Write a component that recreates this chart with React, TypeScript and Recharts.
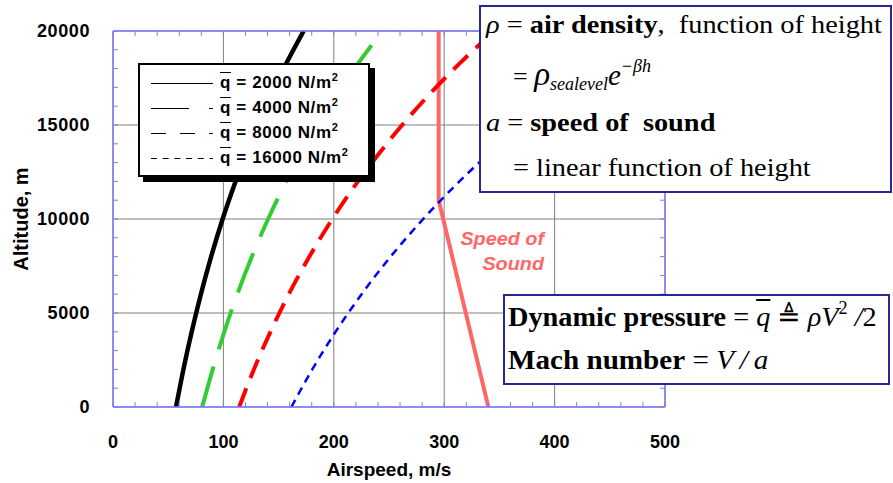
import React from 'react';
import { LineChart, Line, XAxis, YAxis, CartesianGrid, Legend } from 'recharts';

// altitude (m) at which the airspeeds below were read
const altitudes = [0, 2000, 4000, 6000, 8000, 10000, 12000, 14000, 16000, 18000, 20000];

// airspeed (m/s) for constant dynamic pressure
const speedQ2000 = [57.1, 63.8, 71.3, 79.6, 88.9, 99.3, 111.0, 123.9, 138.4, 154.6, 172.7];
const speedQ4000 = [80.8, 90.3, 100.8, 112.6, 125.8, 140.5, 156.9, 175.3, 195.8, 218.7, 244.2];
const speedQ8000 = [114.3, 127.6, 142.6, 159.2, 177.9, 198.7, 221.9, 247.9, 276.8, 309.2, 345.4];
const speedQ16000 = [161.6, 180.5, 201.6, 225.2, 251.5, 281.0, 313.8, 350.5, 391.5, 437.3, 488.4];

// speed of sound
const soundAltitudes = [0, 11000, 20000];
const soundSpeeds = [340, 295, 295];

const xTicks = [0, 100, 200, 300, 400, 500];
const yTicks = [0, 5000, 10000, 15000, 20000];
const xMinorTicks = [0, 20, 40, 60, 80, 100, 120, 140, 160, 180, 200, 220, 240, 260, 280, 300, 320, 340, 360, 380, 400, 420, 440, 460, 480, 500];
const yMinorTicks = [0, 1000, 2000, 3000, 4000, 5000, 6000, 7000, 8000, 9000, 10000, 11000, 12000, 13000, 14000, 15000, 16000, 17000, 18000, 19000, 20000];

const qLabels = ['2000', '4000', '8000', '16000'];

const SANS = '"Liberation Sans", Arial, Helvetica, sans-serif';
const SERIF = '"Liberation Serif", "Times New Roman", Times, serif';
const FRAME = '#7c7cff';
const NAVY = '#27279a';

const W = 893;
const H = 483;
const PLOT = { left: 113, top: 31, width: 552, height: 376 };
const TICK = 5;

const series = [
  { label: qLabels[0], speeds: speedQ2000, color: '#000000', width: 4.5, dash: undefined, legendDash: undefined },
  { label: qLabels[1], speeds: speedQ4000, color: '#33cc33', width: 4, dash: '42 18', legendDash: '38 20 4 100' },
  { label: qLabels[2], speeds: speedQ8000, color: '#ff0000', width: 4, dash: '20 11', legendDash: '15 14 15 14 4 100' },
  { label: qLabels[3], speeds: speedQ16000, color: '#0000ff', width: 2.5, dash: '8 6', legendDash: '6 5.7' },
];

const toPoints = (speeds: number[], alts: number[]) => speeds.map((v, i) => ({ v, h: alts[i] }));

const labelFont = { fill: '#000', fontSize: 18, fontWeight: 'bold', fontFamily: SANS };

// x ticks: inside marks on bottom and top edges, a label on the major ones
const renderXTick = (p: any) => {
  const v = p.payload.value;
  const bottom = PLOT.top + PLOT.height;
  return (
    <g>
      <line x1={p.x} x2={p.x} y1={bottom} y2={bottom - TICK} stroke={FRAME} />
      <line x1={p.x} x2={p.x} y1={PLOT.top} y2={PLOT.top + TICK} stroke={FRAME} />
      {xTicks.includes(v) && (
        <text x={p.x} y={p.y} dy="0.71em" textAnchor="middle" {...labelFont}>
          {v}
        </text>
      )}
    </g>
  );
};

// y ticks: inside marks on left and right edges, a label on the major ones
const renderYTick = (p: any) => {
  const v = p.payload.value;
  const right = PLOT.left + PLOT.width;
  return (
    <g>
      <line x1={PLOT.left} x2={PLOT.left + TICK} y1={p.y} y2={p.y} stroke={FRAME} />
      <line x1={right} x2={right - TICK} y1={p.y} y2={p.y} stroke={FRAME} />
      {yTicks.includes(v) && (
        <text x={p.x} y={p.y} dy="0.355em" textAnchor="end" letterSpacing={0.6} {...labelFont}>
          {v}
        </text>
      )}
    </g>
  );
};

const renderLegend = () => (
  <div
    style={{
      width: 232,
      height: 114,
      boxSizing: 'border-box',
      border: '2px solid #000',
      background: '#fff',
      boxShadow: '5px 5px 0 #000',
      paddingTop: 6,
      fontFamily: SANS,
    }}
  >
    {series.map((s) => (
      <div key={s.label} style={{ display: 'flex', alignItems: 'center', height: 25 }}>
        <svg width={62} height={25} style={{ marginLeft: 11, marginRight: 7, flex: 'none' }}>
          <line x1={0} y1={12.5} x2={62} y2={12.5} stroke="#000" strokeWidth={1.2} strokeDasharray={s.legendDash} />
        </svg>
        <span style={{ fontSize: 17, fontWeight: 'bold', letterSpacing: 0.6, whiteSpace: 'nowrap', lineHeight: '25px' }}>
          <span style={{ textDecoration: 'overline' }}>q</span> = {s.label} N/m
          <span style={{ fontSize: 11, position: 'relative', top: -7 }}>2</span>
        </span>
      </div>
    ))}
  </div>
);

// absolutely placed line of text, given its baseline
const TextLine: React.FC<{ left: number; baseline: number; size: number; family: string; stretch?: number; children: React.ReactNode }> = ({
  left,
  baseline,
  size,
  family,
  stretch = 1,
  children,
}) => (
  <div
    style={{
      position: 'absolute',
      left,
      top: baseline - size * 0.84,
      fontSize: size,
      lineHeight: `${size}px`,
      fontFamily: family,
      whiteSpace: 'nowrap',
      color: '#000',
      transform: `scaleX(${stretch})`,
      transformOrigin: 'left top',
    }}
  >
    {children}
  </div>
);

const App: React.FC = () => {
  const soundData = toPoints(soundSpeeds, soundAltitudes);
  return (
    <div style={{ position: 'absolute', left: 0, top: 0, width: W, height: H, background: '#fff' }}>
      <LineChart
        width={W}
        height={H}
        margin={{ top: PLOT.top, right: W - PLOT.left - PLOT.width, bottom: 0, left: 0 }}
      >
        <CartesianGrid xAxisId="x" yAxisId="y" stroke="#7f7f7f" strokeWidth={1} verticalValues={xTicks} horizontalValues={yTicks} />
        <XAxis
          xAxisId="x"
          dataKey="v"
          type="number"
          domain={[0, 500]}
          ticks={xMinorTicks}
          interval={0}
          allowDataOverflow
          axisLine={{ stroke: FRAME, strokeWidth: 1.5 }}
          tickLine={false}
          tickSize={0}
          tickMargin={28}
          height={H - PLOT.top - PLOT.height}
          tick={renderXTick}
          label={{ value: 'Airspeed, m/s', position: 'insideBottom', offset: 7, fill: '#000', fontSize: 19, fontWeight: 'bold', fontFamily: SANS }}
        />
        <YAxis
          yAxisId="y"
          dataKey="h"
          type="number"
          domain={[0, 20000]}
          ticks={yMinorTicks}
          interval={0}
          allowDataOverflow
          axisLine={{ stroke: FRAME, strokeWidth: 1.5 }}
          tickLine={false}
          tickSize={0}
          tickMargin={23}
          width={PLOT.left}
          tick={renderYTick}
          label={{
            value: 'Altitude, m',
            angle: -90,
            position: 'insideLeft',
            offset: 21,
            fill: '#000',
            fontSize: 20,
            fontWeight: 'bold',
            fontFamily: SANS,
            style: { textAnchor: 'middle' },
          }}
        />
        {/* top and right edges of the blue frame */}
        <XAxis xAxisId="xt" dataKey="v" type="number" orientation="top" mirror domain={[0, 500]} allowDataOverflow tick={false} axisLine={{ stroke: FRAME, strokeWidth: 1.5 }} />
        <YAxis yAxisId="yr" dataKey="h" type="number" orientation="right" mirror domain={[0, 20000]} allowDataOverflow tick={false} axisLine={{ stroke: FRAME, strokeWidth: 1.5 }} />
        <Line
          xAxisId="x"
          yAxisId="y"
          data={soundData}
          dataKey="h"
          name="Speed of Sound"
          type="linear"
          stroke="#ff6666"
          strokeWidth={4}
          dot={false}
          legendType="none"
          isAnimationActive={false}
        />
        {series.map((s) => (
          <Line
            key={s.label}
            xAxisId="x"
            yAxisId="y"
            data={toPoints(s.speeds, altitudes)}
            dataKey="h"
            name={`q = ${s.label} N/m2`}
            type="monotone"
            stroke={s.color}
            strokeWidth={s.width}
            strokeDasharray={s.dash}
            dot={false}
            isAnimationActive={false}
          />
        ))}
        <Legend
          layout="horizontal"
          verticalAlign="middle"
          align="center"
          content={renderLegend}
          wrapperStyle={{ left: 138, top: 63, width: 240, height: 120 }}
        />
      </LineChart>

      {/* Speed of sound label */}
      <div
        style={{
          position: 'absolute',
          right: 349,
          top: 227,
          textAlign: 'right',
          color: '#ff6666',
          fontFamily: SANS,
          fontSize: 18,
          fontWeight: 'bold',
          fontStyle: 'italic',
          lineHeight: '24.5px',
          transform: 'scaleX(1.1)',
          transformOrigin: 'right top',
        }}
      >
        Speed of
        <br />
        Sound
      </div>

      {/* density / speed of sound box */}
      <div style={{ position: 'absolute', left: 479, top: 5, width: 413, height: 188, boxSizing: 'border-box', border: `2px solid ${NAVY}`, background: '#fff' }} />
      <TextLine left={486} baseline={34} size={26} family={SERIF} stretch={1.09}>
        <i>ρ</i> = <b>air density</b>,&nbsp; function of height
      </TextLine>
      <TextLine left={513} baseline={83} size={26} family={SERIF}>
        ={' '}
        <i style={{ fontSize: 33 }}>ρ</i>
        <i style={{ fontSize: 18, position: 'relative', top: 5 }}>sealevel</i>
        <i style={{ fontSize: 29 }}>e</i>
        <i style={{ fontSize: 18, position: 'relative', top: -13 }}>−βh</i>
      </TextLine>
      <TextLine left={486} baseline={132} size={26} family={SERIF} stretch={1.09}>
        <i>a</i> = <b>speed of&nbsp; sound</b>
      </TextLine>
      <TextLine left={513} baseline={177} size={26} family={SERIF} stretch={1.09}>
        = linear function of height
      </TextLine>

      {/* definitions box */}
      <div style={{ position: 'absolute', left: 503, top: 294, width: 387, height: 91, boxSizing: 'border-box', border: `2px solid ${NAVY}`, background: '#fff' }} />
      <TextLine left={508} baseline={327} size={28} family={SERIF} stretch={1.01}>
        <b>Dynamic pressure</b> = <i style={{ textDecoration: 'overline' }}>q</i> ≜ <i>ρV</i>
        <span style={{ fontSize: 18, position: 'relative', top: -12 }}>2</span>
        <i> /</i>2
      </TextLine>
      <TextLine left={508} baseline={370} size={28} family={SERIF} stretch={1.04}>
        <b>Mach number</b> = <i>V</i>
        <i>&thinsp;/&thinsp;</i>
        <i>a</i>
      </TextLine>
    </div>
  );
};

export default App;
